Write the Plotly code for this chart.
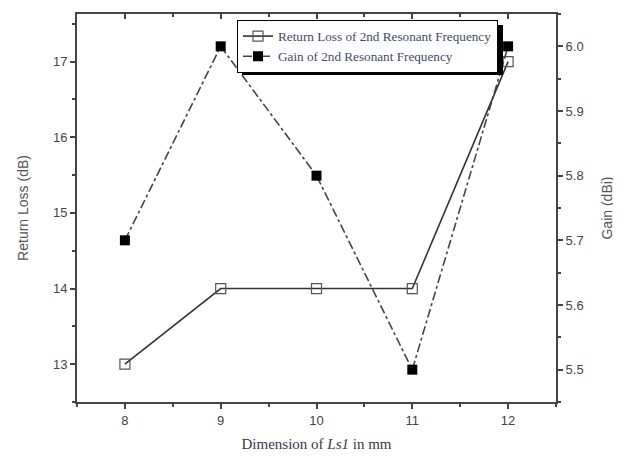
import plotly.graph_objects as go

ls1_mm = [8, 9, 10, 11, 12]
return_loss_db = [13, 14, 14, 14, 17]
gain_dbi = [5.7, 6.0, 5.8, 5.5, 6.0]

# page has an 8px body margin, so the figure is sized/offset to compensate
OFF = 8
W, H = 621 - OFF, 466 - OFF
ML, MT = 77 - OFF, 14 - OFF
MR, MB = W - (556 - OFF), H - (402 - OFF)
PW, PH = W - ML - MR, H - MT - MB

def px(xp):  # page pixel -> paper x
    return (xp - OFF - ML) / PW

def py(yp):  # page pixel -> paper y
    return 1 - (yp - OFF - MT) / PH

axis_col = "#444444"
tick_font = dict(family="Liberation Sans, Arial, sans-serif", size=13, color="#444444")

fig = go.Figure()

fig.add_trace(go.Scatter(
    x=ls1_mm, y=return_loss_db, name="Return Loss of 2nd Resonant Frequency",
    mode="lines+markers",
    line=dict(color="#333333", width=1.6, dash="solid"),
    marker=dict(symbol="square-open", size=10, color="#555555", line=dict(width=1.2)),
    xaxis="x", yaxis="y",
))
fig.add_trace(go.Scatter(
    x=ls1_mm, y=gain_dbi, name="Gain of 2nd Resonant Frequency",
    mode="lines+markers",
    line=dict(color="#444444", width=1.6, dash="dashdot"),
    marker=dict(symbol="square", size=10, color="#000000"),
    xaxis="x", yaxis="y2",
))
# invisible trace to carry the mirrored top axis
fig.add_trace(go.Scatter(
    x=ls1_mm, y=return_loss_db, mode="markers", marker=dict(opacity=0),
    showlegend=False, hoverinfo="skip", xaxis="x2", yaxis="y",
))

fig.update_layout(
    width=W, height=H,
    margin=dict(l=ML, r=MR, t=MT, b=MB, pad=0, autoexpand=False),
    paper_bgcolor="white", plot_bgcolor="white",
    showlegend=True,
    legend=dict(
        x=px(237), y=py(20), xanchor="left", yanchor="top",
        bgcolor="white", bordercolor="black", borderwidth=1,
        font=dict(family="Liberation Serif, Times New Roman, serif", size=13.2, color="#3b4a6b"),
        itemwidth=30, tracegroupgap=0,
    ),
    xaxis=dict(
        range=[7.5, 12.5], tickvals=[8, 9, 10, 11, 12], automargin=False,
        showgrid=False, zeroline=False,
        showline=True, linecolor=axis_col, linewidth=2,
        ticks="outside", ticklen=5, tickwidth=1.5, tickcolor=axis_col,
        minor=dict(dtick=0.5, ticks="outside", ticklen=3, tickwidth=1.5, tickcolor=axis_col),
        tickfont=tick_font,
        title=dict(
            text="Dimension of <i>Ls1</i> in mm",
            font=dict(family="Liberation Serif, Times New Roman, serif", size=15, color="#333a48"),
            standoff=12,
        ),
    ),
    xaxis2=dict(
        overlaying="x", side="top", matches="x", anchor="y", automargin=False,
        range=[7.5, 12.5], tickvals=[8, 9, 10, 11, 12],
        showgrid=False, zeroline=False, showticklabels=False,
        showline=True, linecolor=axis_col, linewidth=2,
        ticks="inside", ticklen=5, tickwidth=1.5, tickcolor=axis_col,
        minor=dict(dtick=0.5, ticks="inside", ticklen=3, tickwidth=1.5, tickcolor=axis_col),
    ),
    yaxis=dict(
        range=[12.5, 17.63], tickvals=[13, 14, 15, 16, 17], automargin=False,
        showgrid=False, zeroline=False,
        showline=True, linecolor=axis_col, linewidth=2,
        ticks="outside", ticklen=5, tickwidth=1.5, tickcolor=axis_col,
        minor=dict(dtick=0.5, ticks="outside", ticklen=3, tickwidth=1.5, tickcolor=axis_col),
        tickfont=tick_font,
        title=dict(text="Return Loss (dB)",
                   font=dict(family="Liberation Sans, Arial, sans-serif", size=14, color="#555555"),
                   standoff=21),
    ),
    yaxis2=dict(
        overlaying="y", side="right", anchor="x", automargin=False,
        range=[5.45, 6.05], tickvals=[5.5, 5.6, 5.7, 5.8, 5.9, 6.0], ticktext=["5.5", "5.6", "5.7", "5.8", "5.9", "6.0"],
        showgrid=False, zeroline=False,
        showline=True, linecolor=axis_col, linewidth=2,
        ticks="outside", ticklen=5, tickwidth=1.5, tickcolor=axis_col,
        minor=dict(dtick=0.05, ticks="outside", ticklen=3, tickwidth=1.5, tickcolor=axis_col),
        tickfont=tick_font,
        title=dict(text="Gain (dBi)",
                   font=dict(family="Liberation Sans, Arial, sans-serif", size=14, color="#555555"),
                   standoff=20),
    ),
)

# legend drop shadow
fig.add_shape(type="rect", xref="paper", yref="paper",
              x0=px(242), x1=px(503), y0=py(75), y1=py(25),
              fillcolor="black", line=dict(width=0), layer="above")

fig.write_html("out.html")
